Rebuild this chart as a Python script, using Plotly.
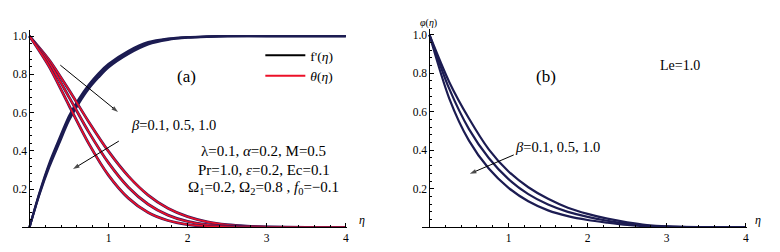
import plotly.graph_objects as go

# ---------------- data ----------------
eta_f = [0, 0.125, 0.25, 0.375, 0.5, 0.625, 0.75, 0.875, 1.0, 1.25, 1.5, 1.75, 2.0, 2.25, 2.5, 3.0, 3.5, 4.0]
fp_b01 = [0, 0.180, 0.335, 0.462, 0.582, 0.672, 0.746, 0.806, 0.854, 0.922, 0.968, 0.987, 0.995, 0.998, 1.0, 1.0, 1.0, 1.0]
fp_b05 = [0, 0.175, 0.325, 0.450, 0.570, 0.660, 0.735, 0.795, 0.845, 0.915, 0.962, 0.984, 0.993, 0.997, 0.999, 1.0, 1.0, 1.0]
fp_b10 = [0, 0.170, 0.315, 0.438, 0.558, 0.648, 0.724, 0.784, 0.836, 0.906, 0.956, 0.980, 0.991, 0.996, 0.999, 1.0, 1.0, 1.0]

eta = [0, 0.25, 0.5, 0.75, 1.0, 1.25, 1.5, 1.75, 2.0, 2.25, 2.5, 2.75, 3.0, 3.5, 4.0]
th_b01 = [1, 0.875, 0.718, 0.551, 0.397, 0.268, 0.169, 0.100, 0.056, 0.029, 0.014, 0.0065, 0.003, 0.0003, 0]
th_b05 = [1, 0.859, 0.681, 0.498, 0.337, 0.210, 0.121, 0.064, 0.031, 0.014, 0.006, 0.0025, 0.001, 0, 0]
th_b10 = [1, 0.839, 0.637, 0.438, 0.272, 0.153, 0.078, 0.036, 0.015, 0.0057, 0.002, 0.0007, 0.0002, 0, 0]

ph_b01 = [1, 0.755, 0.565, 0.405, 0.290, 0.208, 0.148, 0.102, 0.070, 0.045, 0.026, 0.012, 0.005, 0.001, 0]
ph_b05 = [1, 0.720, 0.510, 0.360, 0.250, 0.172, 0.118, 0.080, 0.054, 0.034, 0.019, 0.008, 0.003, 0, 0]
ph_b10 = [1, 0.670, 0.450, 0.305, 0.205, 0.135, 0.088, 0.058, 0.038, 0.024, 0.012, 0.005, 0.002, 0, 0]

x_ticks = [1, 2, 3, 4]
x_minor = [0.2, 0.4, 0.6, 0.8, 1.2, 1.4, 1.6, 1.8, 2.2, 2.4, 2.6, 2.8, 3.2, 3.4, 3.6, 3.8]
y_ticks = [0.2, 0.4, 0.6, 0.8, 1.0]
y_tick_text = ["0.2", "0.4", "0.6", "0.8", "1.0"]
y_minor = [0.04, 0.08, 0.12, 0.16, 0.24, 0.28, 0.32, 0.36, 0.44, 0.48, 0.52, 0.56,
           0.64, 0.68, 0.72, 0.76, 0.84, 0.88, 0.92, 0.96]

NAVY = "#1c1c52"
RED = "#ec1028"
SERIF = "Liberation Serif, Times New Roman, serif"

fig = go.Figure()

# left panel: f'
for ys in (fp_b01, fp_b05, fp_b10):
    fig.add_trace(go.Scatter(x=eta_f, y=ys, mode="lines", xaxis="x", yaxis="y",
                             line=dict(color=NAVY, width=2.2, shape="spline", smoothing=0.8),
                             showlegend=False, hoverinfo="skip"))
# left panel: theta (navy outline + red core)
for ys in (th_b01, th_b05, th_b10):
    fig.add_trace(go.Scatter(x=eta, y=ys, mode="lines", xaxis="x", yaxis="y",
                             line=dict(color="#3a1a5a", width=2.8, shape="spline", smoothing=0.8),
                             showlegend=False, hoverinfo="skip"))
    fig.add_trace(go.Scatter(x=eta, y=ys, mode="lines", xaxis="x", yaxis="y",
                             line=dict(color=RED, width=1.6, shape="spline", smoothing=0.8),
                             showlegend=False, hoverinfo="skip"))
# legend entries
fig.add_trace(go.Scatter(x=[None], y=[None], mode="lines", xaxis="x", yaxis="y",
                         line=dict(color="black", width=2), name="f'(<i>η</i>)"))
fig.add_trace(go.Scatter(x=[None], y=[None], mode="lines", xaxis="x", yaxis="y",
                         line=dict(color=RED, width=2), name="<i>θ</i>(<i>η</i>)"))

# right panel: phi
for ys in (ph_b01, ph_b05, ph_b10):
    fig.add_trace(go.Scatter(x=eta, y=ys, mode="lines", xaxis="x2", yaxis="y2",
                             line=dict(color=NAVY, width=2.2, shape="spline", smoothing=0.8),
                             showlegend=False, hoverinfo="skip"))


# annotation arrows (tail -> head), drawn as a line with an arrow marker at the head
def arrow(x0, y0, x1, y1, xa, ya):
    fig.add_trace(go.Scatter(x=[x0, x1], y=[y0, y1], mode="lines+markers", xaxis=xa, yaxis=ya,
                             line=dict(color="black", width=1),
                             marker=dict(symbol=["circle", "arrow"], size=[0.1, 7],
                                         angleref="previous", color="black",
                                         line=dict(width=0)),
                             showlegend=False, hoverinfo="skip"))


arrow(0.39, 0.848, 1.12, 0.603, "x", "y")
arrow(1.13, 0.451, 0.55, 0.305, "x", "y")
arrow(1.066, 0.376, 0.51, 0.278, "x2", "y2")

W, H = 780, 252


def xaxis_cfg(domain):
    return dict(domain=domain, range=[-0.09, 4.02], showgrid=False, zeroline=False,
                showline=True, linecolor="black", linewidth=1,
                tickmode="array", tickvals=x_ticks, ticks="inside", ticklen=4,
                tickcolor="black", tickfont=dict(family=SERIF, size=11.5, color="black"),
                minor=dict(tickmode="array", tickvals=x_minor, ticks="inside", ticklen=2,
                           tickcolor="black"),
                fixedrange=True)


def yaxis_cfg(domain, pos):
    return dict(domain=domain, range=[0, 1.03], anchor="free", position=pos,
                showgrid=False, zeroline=False, showline=True, linecolor="black", linewidth=1,
                tickmode="array", tickvals=y_ticks, ticktext=y_tick_text, ticks="inside",
                ticklen=4, tickcolor="black",
                tickfont=dict(family=SERIF, size=11.5, color="black"),
                minor=dict(tickmode="array", tickvals=y_minor, ticks="inside", ticklen=2,
                           tickcolor="black"),
                fixedrange=True)


fig.update_layout(
    width=W, height=H, margin=dict(l=0, r=0, t=0, b=0),
    plot_bgcolor="white", paper_bgcolor="white",
    xaxis=dict(xaxis_cfg([22.4 / W, 348.3 / W]), anchor="y"),
    yaxis=yaxis_cfg([(H - 227.4) / H, (H - 30.3) / H], 29.5 / W),
    xaxis2=dict(xaxis_cfg([423.4 / W, 749.3 / W]), anchor="y2"),
    yaxis2=yaxis_cfg([(H - 227.3) / H, (H - 29.0) / H], 430.5 / W),
    legend=dict(x=261 / W, y=(H - 40) / H, xanchor="left", yanchor="top",
                bgcolor="rgba(0,0,0,0)", font=dict(family=SERIF, size=13.5, color="black"),
                itemwidth=40, tracegroupgap=0),
    font=dict(family=SERIF, color="black"),
)

ann = []
def txt(text, x, y, size, xref="x", yref="y", **kw):
    ann.append(dict(text=text, x=x, y=y, xref=xref, yref=yref, showarrow=False,
                    font=dict(family=SERIF, size=size, color="black"), **kw))

# left panel texts
txt("(a)", 1.99, 0.786, 17)
txt("<i>β</i>=0.1, 0.5, 1.0", 1.82, 0.535, 14.5)
txt("λ=0.1, <i>α</i>=0.2, M=0.5", 2.96, 0.397, 15)
txt("Pr=1.0, <i>ε</i>=0.2, Ec=0.1", 2.96, 0.298, 15)
txt("Ω<sub>1</sub>=0.2, Ω<sub>2</sub>=0.8 , <i>f</i><sub>0</sub>=−0.1", 2.96, 0.205, 15)
txt("<i>η</i>", 363 / W, (H - 229) / H, 12, xref="paper", yref="paper")

# right panel texts
txt("(b)", 1.48, 0.781, 17, xref="x2", yref="y2")
txt("Le=1.0", 3.17, 0.843, 14, xref="x2", yref="y2")
txt("<i>β</i>=0.1, 0.5, 1.0", 1.62, 0.418, 14.5, xref="x2", yref="y2")
txt("<i>φ</i>(<i>η</i>)", 430 / W, (H - 15) / H, 10, xref="paper", yref="paper")
txt("<i>η</i>", 765 / W, (H - 229) / H, 12, xref="paper", yref="paper")

fig.update_layout(annotations=ann)
fig.write_html("out.html", config={"displayModeBar": False},
               post_script="document.body.style.margin='0';document.body.style.padding='0';")
